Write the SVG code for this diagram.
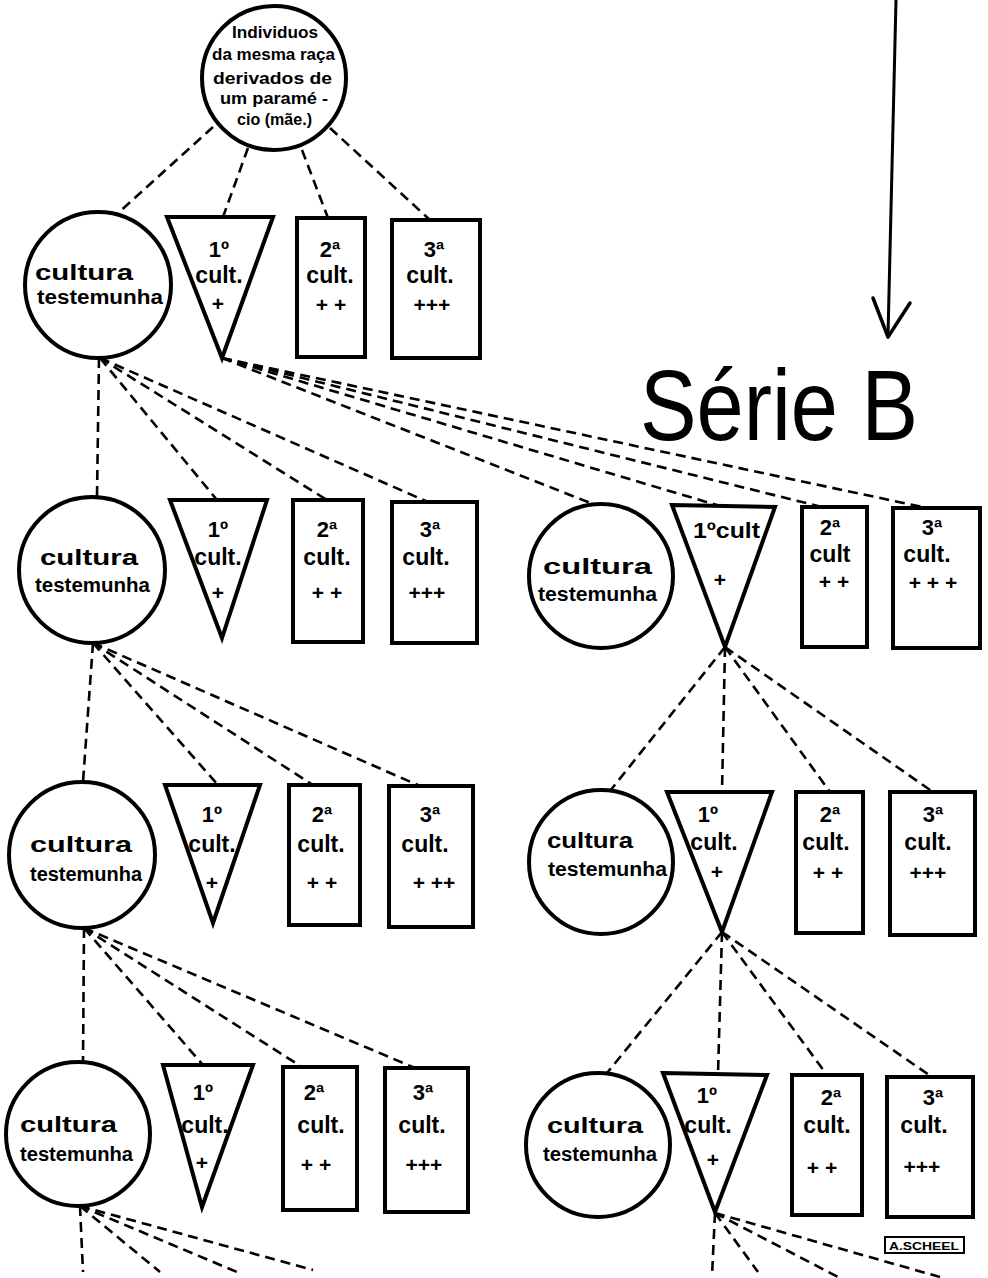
<svg xmlns="http://www.w3.org/2000/svg" width="988" height="1278" viewBox="0 0 988 1278">
<style>
.s{fill:#fff;stroke:#000;stroke-width:4;stroke-linejoin:miter}
.d{fill:none;stroke:#000;stroke-width:2.6;stroke-dasharray:10 6}
.t{font-family:"Liberation Sans",Arial,sans-serif;font-weight:bold;fill:#000}
.c{font-size:22px}
.w{font-size:20px}
.o{font-size:22px;text-anchor:middle}
.k{font-size:23px;text-anchor:middle}
.p{font-size:21px;text-anchor:middle}
.m{font-size:16px}
</style>
<rect width="988" height="1278" fill="#fff"/>
<g id="connectors">
<line class="d" x1="213" y1="127" x2="117" y2="214"/>
<line class="d" x1="248" y1="148" x2="223" y2="217"/>
<line class="d" x1="302" y1="150" x2="328" y2="218"/>
<line class="d" x1="330" y1="128" x2="430" y2="220"/>
<line class="d" x1="99" y1="358" x2="97" y2="497"/>
<line class="d" x1="100" y1="358" x2="217" y2="500"/>
<line class="d" x1="100" y1="358" x2="327" y2="500"/>
<line class="d" x1="100" y1="358" x2="428" y2="502"/>
<line class="d" x1="222" y1="358" x2="593" y2="504"/>
<line class="d" x1="222" y1="358" x2="720" y2="506"/>
<line class="d" x1="222" y1="358" x2="822" y2="507"/>
<line class="d" x1="222" y1="358" x2="927" y2="508"/>
<line class="d" x1="93" y1="643" x2="83" y2="782"/>
<line class="d" x1="93" y1="643" x2="218" y2="785"/>
<line class="d" x1="93" y1="643" x2="313" y2="785"/>
<line class="d" x1="93" y1="643" x2="420" y2="786"/>
<line class="d" x1="725" y1="647" x2="610" y2="791"/>
<line class="d" x1="725" y1="647" x2="722" y2="792"/>
<line class="d" x1="725" y1="647" x2="830" y2="792"/>
<line class="d" x1="725" y1="647" x2="933" y2="792"/>
<line class="d" x1="84" y1="928" x2="83" y2="1062"/>
<line class="d" x1="84" y1="928" x2="203" y2="1065"/>
<line class="d" x1="84" y1="928" x2="302" y2="1067"/>
<line class="d" x1="84" y1="928" x2="415" y2="1068"/>
<line class="d" x1="722" y1="932" x2="607" y2="1073"/>
<line class="d" x1="722" y1="932" x2="718" y2="1074"/>
<line class="d" x1="722" y1="932" x2="827" y2="1075"/>
<line class="d" x1="722" y1="932" x2="932" y2="1077"/>
<line class="d" x1="80" y1="1206" x2="83" y2="1272"/>
<line class="d" x1="80" y1="1206" x2="160" y2="1272"/>
<line class="d" x1="80" y1="1206" x2="237" y2="1272"/>
<line class="d" x1="80" y1="1206" x2="313" y2="1270"/>
<line class="d" x1="715" y1="1213" x2="712" y2="1276"/>
<line class="d" x1="715" y1="1213" x2="758" y2="1272"/>
<line class="d" x1="715" y1="1213" x2="840" y2="1278"/>
<line class="d" x1="715" y1="1213" x2="940" y2="1277"/>
<line x1="896" y1="0" x2="888" y2="335" stroke="#000" stroke-width="3"/>
<polyline points="873,298 888,337 910,303" fill="none" stroke="#000" stroke-width="3.5" stroke-linejoin="round" stroke-linecap="round"/>
</g>
<g id="title"><text class="t" x="640" y="440" font-size="100" textLength="278" lengthAdjust="spacingAndGlyphs" style="font-weight:normal">Série B</text></g>
<g id="mother">
<circle class="s" cx="274" cy="78" r="72"/>
<text class="t m" x="232" y="38" textLength="86" lengthAdjust="spacingAndGlyphs">Individuos</text>
<text class="t m" x="212" y="60" textLength="123" lengthAdjust="spacingAndGlyphs">da mesma raça</text>
<text class="t m" x="213" y="84" textLength="119" lengthAdjust="spacingAndGlyphs">derivados de</text>
<text class="t m" x="220" y="104" textLength="108" lengthAdjust="spacingAndGlyphs">um paramé -</text>
<text class="t m" x="237" y="125" textLength="75" lengthAdjust="spacingAndGlyphs">cio (mãe.)</text>
</g>
<!-- Row 1 -->
<g id="c1"><circle class="s" cx="98" cy="285" r="73"/>
<text class="t c" x="35" y="280" textLength="98" lengthAdjust="spacingAndGlyphs">cultura</text>
<text class="t w" x="37" y="304" textLength="126" lengthAdjust="spacingAndGlyphs">testemunha</text></g>
<g id="t1"><polygon class="s" points="167,217 273,217 222,358"/>
<text class="t o" x="219" y="257">1º</text><text class="t k" x="219" y="283">cult.</text><text class="t p" x="218" y="311">+</text></g>
<g id="b1a"><rect class="s" x="297" y="218" width="68" height="139"/>
<text class="t o" x="330" y="257">2ª</text><text class="t k" x="330" y="283">cult.</text><text class="t p" x="331" y="312">+ +</text></g>
<g id="b1b"><rect class="s" x="392" y="220" width="88" height="138"/>
<text class="t o" x="434" y="257">3ª</text><text class="t k" x="430" y="283">cult.</text><text class="t p" x="432" y="312">+++</text></g>
<!-- Row 2 left -->
<g id="c2"><circle class="s" cx="92" cy="570" r="73"/>
<text class="t c" x="40" y="565" textLength="98" lengthAdjust="spacingAndGlyphs">cultura</text>
<text class="t w" x="35" y="592" textLength="115" lengthAdjust="spacingAndGlyphs">testemunha</text></g>
<g id="t2"><polygon class="s" points="170,500 267,500 222,638"/>
<text class="t o" x="218" y="537">1º</text><text class="t k" x="218" y="565">cult.</text><text class="t p" x="218" y="600">+</text></g>
<g id="b2a"><rect class="s" x="293" y="500" width="70" height="142"/>
<text class="t o" x="327" y="537">2ª</text><text class="t k" x="327" y="565">cult.</text><text class="t p" x="327" y="600">+ +</text></g>
<g id="b2b"><rect class="s" x="392" y="502" width="85" height="141"/>
<text class="t o" x="430" y="537">3ª</text><text class="t k" x="426" y="565">cult.</text><text class="t p" x="427" y="600">+++</text></g>
<!-- Row 3 left -->
<g id="c3"><circle class="s" cx="82" cy="855" r="73"/>
<text class="t c" x="30" y="852" textLength="102" lengthAdjust="spacingAndGlyphs">cultura</text>
<text class="t w" x="30" y="881" textLength="112" lengthAdjust="spacingAndGlyphs">testemunha</text></g>
<g id="t3"><polygon class="s" points="165,785 260,785 213,923"/>
<text class="t o" x="212" y="822">1º</text><text class="t k" x="212" y="852">cult.</text><text class="t p" x="212" y="890">+</text></g>
<g id="b3a"><rect class="s" x="289" y="785" width="71" height="140"/>
<text class="t o" x="322" y="822">2ª</text><text class="t k" x="321" y="852">cult.</text><text class="t p" x="322" y="890">+ +</text></g>
<g id="b3b"><rect class="s" x="389" y="786" width="84" height="141"/>
<text class="t o" x="430" y="822">3ª</text><text class="t k" x="425" y="852">cult.</text><text class="t p" x="434" y="890">+ ++</text></g>
<!-- Row 4 left -->
<g id="c4"><circle class="s" cx="78" cy="1134" r="72"/>
<text class="t c" x="20" y="1132" textLength="97" lengthAdjust="spacingAndGlyphs">cultura</text>
<text class="t w" x="20" y="1161" textLength="113" lengthAdjust="spacingAndGlyphs">testemunha</text></g>
<g id="t4"><polygon class="s" points="163,1065 253,1065 202,1207"/>
<text class="t o" x="203" y="1100">1º</text><text class="t k" x="205" y="1133">cult.</text><text class="t p" x="202" y="1170">+</text></g>
<g id="b4a"><rect class="s" x="283" y="1067" width="74" height="143"/>
<text class="t o" x="314" y="1100">2ª</text><text class="t k" x="321" y="1133">cult.</text><text class="t p" x="316" y="1172">+ +</text></g>
<g id="b4b"><rect class="s" x="385" y="1068" width="83" height="144"/>
<text class="t o" x="423" y="1100">3ª</text><text class="t k" x="422" y="1133">cult.</text><text class="t p" x="424" y="1172">+++</text></g>
<!-- Série B row 2 -->
<g id="cb2"><circle class="s" cx="601" cy="576" r="72"/>
<text class="t c" x="543" y="574" textLength="109" lengthAdjust="spacingAndGlyphs">cultura</text>
<text class="t w" x="538" y="601" textLength="119" lengthAdjust="spacingAndGlyphs">testemunha</text></g>
<g id="tb2"><polygon class="s" points="672,505 775,507 725,647"/>
<text class="t" x="693" y="538" font-size="22" textLength="67" lengthAdjust="spacingAndGlyphs">1ºcult</text><text class="t p" x="720" y="587">+</text></g>
<g id="bb2a"><rect class="s" x="802" y="507" width="65" height="140"/>
<text class="t o" x="830" y="535">2ª</text><text class="t k" x="830" y="562">cult</text><text class="t p" x="834" y="589">+ +</text></g>
<g id="bb2b"><rect class="s" x="893" y="508" width="87" height="140"/>
<text class="t o" x="932" y="535">3ª</text><text class="t k" x="927" y="562">cult.</text><text class="t p" x="933" y="590">+ + +</text></g>
<!-- Série B row 3 -->
<g id="cb3"><circle class="s" cx="601" cy="862" r="72"/>
<text class="t c" x="547" y="848" textLength="86" lengthAdjust="spacingAndGlyphs">cultura</text>
<text class="t w" x="548" y="876" textLength="119" lengthAdjust="spacingAndGlyphs">testemunha</text></g>
<g id="tb3"><polygon class="s" points="667,792 772,792 722,932"/>
<text class="t o" x="708" y="822">1º</text><text class="t k" x="714" y="850">cult.</text><text class="t p" x="717" y="879">+</text></g>
<g id="bb3a"><rect class="s" x="796" y="792" width="67" height="141"/>
<text class="t o" x="830" y="822">2ª</text><text class="t k" x="826" y="850">cult.</text><text class="t p" x="828" y="880">+ +</text></g>
<g id="bb3b"><rect class="s" x="890" y="792" width="85" height="143"/>
<text class="t o" x="933" y="822">3ª</text><text class="t k" x="928" y="850">cult.</text><text class="t p" x="928" y="880">+++</text></g>
<!-- Série B row 4 -->
<g id="cb4"><circle class="s" cx="598" cy="1145" r="72"/>
<text class="t c" x="547" y="1133" textLength="96" lengthAdjust="spacingAndGlyphs">cultura</text>
<text class="t w" x="543" y="1161" textLength="114" lengthAdjust="spacingAndGlyphs">testemunha</text></g>
<g id="tb4"><polygon class="s" points="663,1073 767,1075 715,1212"/>
<text class="t o" x="707" y="1103">1º</text><text class="t k" x="708" y="1133">cult.</text><text class="t p" x="713" y="1167">+</text></g>
<g id="bb4a"><rect class="s" x="792" y="1075" width="70" height="140"/>
<text class="t o" x="831" y="1105">2ª</text><text class="t k" x="827" y="1133">cult.</text><text class="t p" x="822" y="1175">+ +</text></g>
<g id="bb4b"><rect class="s" x="887" y="1077" width="86" height="140"/>
<text class="t o" x="933" y="1105">3ª</text><text class="t k" x="924" y="1133">cult.</text><text class="t p" x="922" y="1174">+++</text></g>
<g id="signature"><rect x="885" y="1237" width="79" height="16" fill="#fff" stroke="#000" stroke-width="2"/>
<text class="t" x="889" y="1250" font-size="10" textLength="70" lengthAdjust="spacingAndGlyphs">A.SCHEEL</text></g>
</svg>
